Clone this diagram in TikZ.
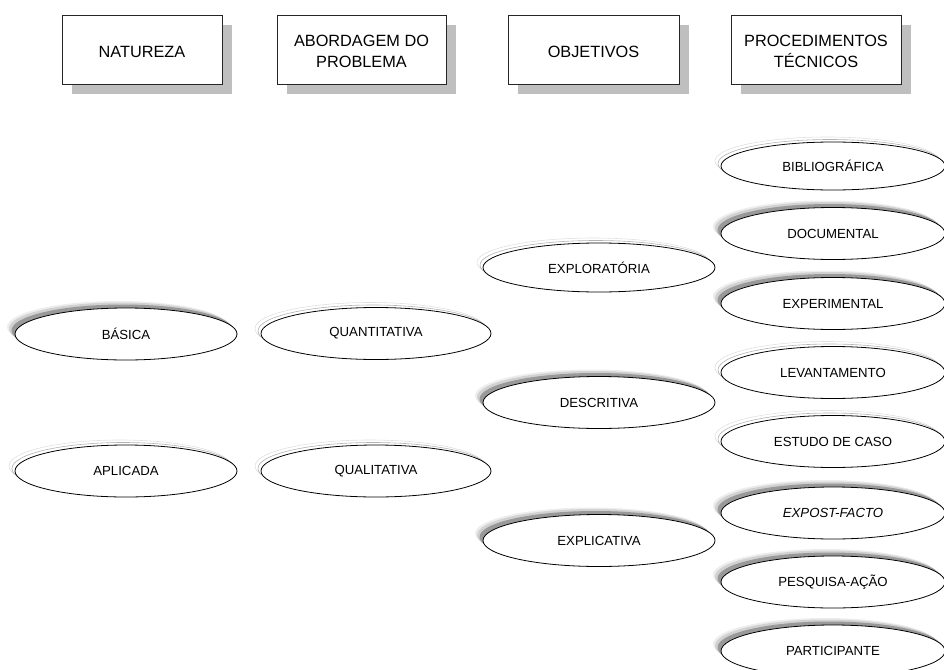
\documentclass[tikz,border=0pt]{standalone}
\usepackage{fontspec}
\setmainfont{Liberation Sans}
\usetikzlibrary{shapes.geometric,shadows}
% header label, set a little below the middle of its box
\newcommand{\headtext}[1]{\raisebox{-3.5pt}[\height][\depth]{\begin{tabular}{@{}c@{}}#1\end{tabular}}}
\begin{document}
\begin{tikzpicture}[x=1pt,y=-1pt,
  header/.style={draw=black!85, line width=0.8pt, fill=white, align=center,
    minimum height=69pt, inner sep=0pt,
    font=\fontsize{16.3}{20}\selectfont,
    general shadow={shadow xshift=10pt, shadow yshift=-10pt, fill=black!25}},
  oval/.style={ellipse, draw=black, line width=0.8pt, fill=white,
    minimum width=224pt, minimum height=52pt, inner sep=0pt,
    font=\fontsize{13.2}{15}\selectfont},
  deep/.style={oval,
    general shadow={shadow xshift=-8pt, shadow yshift=7pt, fill=black!7},
    general shadow={shadow xshift=-6pt, shadow yshift=5.5pt, fill=black!18},
    general shadow={shadow xshift=-3.5pt, shadow yshift=3.5pt, fill=black!40}},
  faint/.style={oval,
    general shadow={shadow xshift=-6pt, shadow yshift=5pt, fill=none, draw=black!12, line width=0.6pt},
    general shadow={shadow xshift=-3pt, shadow yshift=2.5pt, fill=none, draw=black!30, line width=0.6pt}}
]
\path[use as bounding box] (0,0) rectangle (944,669);

% column headers
\node[header, minimum width=160pt] (nat) at (142,49.5) {\headtext{NATUREZA}};
\node[header, minimum width=169pt] (abo) at (361.5,49.5) {\headtext{ABORDAGEM DO\\PROBLEMA}};
\node[header, minimum width=171pt] (obj) at (593.5,49.5) {\headtext{OBJETIVOS}};
\node[header, minimum width=170pt] (pro) at (816,49.5) {\headtext{PROCEDIMENTOS\\TÉCNICOS}};

% nature
\node[deep,  minimum width=222pt] (bas) at (126,334) {BÁSICA};
\node[faint, minimum width=222pt] (apl) at (126,471) {APLICADA};

% approach
\node[faint, minimum width=230pt] (qtt) at (376,333.5) {QUANTITATIVA};
\node[faint, minimum width=230pt] (qlt) at (376,471) {QUALITATIVA};

% objectives
\node[faint, minimum width=232pt, minimum height=49pt] (exo) at (599,267.5) {EXPLORATÓRIA};
\node[deep,  minimum width=232pt] (des) at (599,402.5) {DESCRITIVA};
\node[deep,  minimum width=232pt] (exi) at (599,540.5) {EXPLICATIVA};

% technical procedures
\node[faint, minimum height=48pt] (bib) at (833,166) {BIBLIOGRÁFICA};
\node[deep]  (doc) at (833,233.5) {DOCUMENTAL};
\node[deep]  (exp) at (833,303.5) {EXPERIMENTAL};
\node[faint] (lev) at (833,372.5) {LEVANTAMENTO};
\node[faint] (est) at (833,441.5) {ESTUDO DE CASO};
\node[deep]  (epf) at (833,513) {\itshape EXPOST-FACTO};
\node[deep]  (pes) at (833,582) {PESQUISA-AÇÃO};
\node[deep]  (par) at (833,651) {PARTICIPANTE};
\end{tikzpicture}
\end{document}
